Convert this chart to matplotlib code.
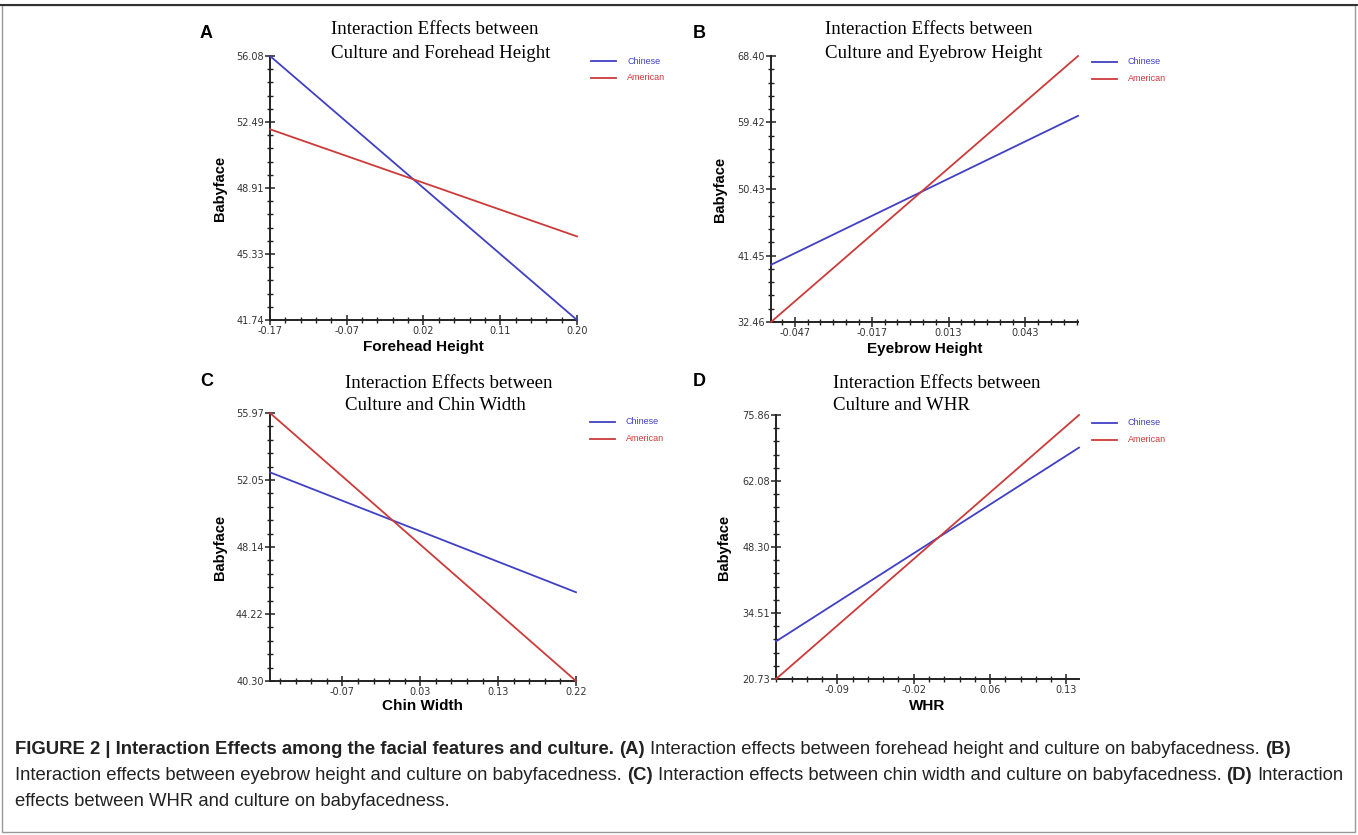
import numpy as np
import matplotlib
matplotlib.use("Agg")
import matplotlib.pyplot as plt
from matplotlib.ticker import FixedLocator, FixedFormatter

# ---- data ----
panel_letters = ["A", "B", "C", "D"]
titles = ["Culture and Forehead Height", "Culture and Eyebrow Height",
          "Culture and Chin Width", "Culture and WHR"]
xlabels = ["Forehead Height", "Eyebrow Height", "Chin Width", "WHR"]

# x ends of each simple-slope line (low, high)
x_forehead = [-0.17, 0.20]
x_eyebrow = [-0.0563, 0.0635]
x_chin = [-0.160, 0.220]
x_whr = [-0.149, 0.142]

chinese_forehead = [56.08, 41.74]
american_forehead = [52.10, 46.28]
chinese_eyebrow = [40.19, 60.31]
american_eyebrow = [32.46, 68.40]
chinese_chin = [52.50, 45.49]
american_chin = [55.97, 40.30]
chinese_whr = [28.59, 69.05]
american_whr = [20.73, 75.86]

# y tick labels (bottom to top)
yt_forehead = ["41.74", "45.33", "48.91", "52.49", "56.08"]
yt_eyebrow = ["32.46", "41.45", "50.43", "59.42", "68.40"]
yt_chin = ["40.30", "44.22", "48.14", "52.05", "55.97"]
yt_whr = ["20.73", "34.51", "48.30", "62.08", "75.86"]

# labelled x ticks: first position, step, labels
xt_forehead = (-0.17, 0.0925, ["-0.17", "-0.07", "0.02", "0.11", "0.20"])
xt_eyebrow = (-0.047, 0.03, ["-0.047", "-0.017", "0.013", "0.043"])
xt_chin = (-0.07, 0.09666, ["-0.07", "0.03", "0.13", "0.22"])
xt_whr = (-0.09, 0.0733, ["-0.09", "-0.02", "0.06", "0.13"])

xs = [x_forehead, x_eyebrow, x_chin, x_whr]
chinese = [chinese_forehead, chinese_eyebrow, chinese_chin, chinese_whr]
american = [american_forehead, american_eyebrow, american_chin, american_whr]
ytlabels = [yt_forehead, yt_eyebrow, yt_chin, yt_whr]
xticks = [xt_forehead, xt_eyebrow, xt_chin, xt_whr]
xminor_div = [5, 6, 5, 5]

blue = "#4040c4"
red = "#cc3a3a"

W, H = 1358, 835
fig = plt.figure(figsize=(W / 100, H / 100), dpi=100)

def fx(px):
    return px / W

def fy(py):
    return 1 - py / H

# axes boxes in pixels: left, right, top, bottom
boxes = [(270, 577, 56, 320), (771, 1078, 56, 322),
         (270, 576, 413, 681), (776, 1079, 415, 679)]
title_pos = [(331, 30), (825, 30), (345, 383), (833, 383)]
letter_pos = [(200, 33), (693, 33), (200, 382), (693, 382)]
legend_pos = [(591, 61), (1092, 62), (590, 422), (1092, 423)]
ylabel_x = [220, 720, 220, 724]
xlabel_y = [347, 349, 706, 706]

for i in range(4):
    l, r, t, b = boxes[i]
    ax = fig.add_axes([fx(l), fy(b), fx(r - l), (b - t) / H])
    x = xs[i]
    ax.plot(x, chinese[i], color=blue, lw=1.3, clip_on=False, zorder=3)
    ax.plot(x, american[i], color=red, lw=1.3, clip_on=False, zorder=3)
    ax.set_xlim(x[0], x[1] + 1e-6)
    ylabs = ytlabels[i]
    y0, y1 = float(ylabs[0]), float(ylabs[-1])
    ax.set_ylim(y0, y1)

    for s in ["top", "right"]:
        ax.spines[s].set_visible(False)
    for s in ["left", "bottom"]:
        ax.spines[s].set_linewidth(1.4)
        ax.spines[s].set_color("#222222")

    # y ticks: 5 labelled, 4 minor in between
    ax.yaxis.set_major_locator(FixedLocator(np.linspace(y0, y1, 5)))
    ax.yaxis.set_major_formatter(FixedFormatter(ylabs))
    ax.yaxis.set_minor_locator(FixedLocator(np.linspace(y0, y1, 21)))

    # x ticks
    start, step, labs = xticks[i]
    xmaj = start + step * np.arange(len(labs))
    ax.xaxis.set_major_locator(FixedLocator(xmaj))
    ax.xaxis.set_major_formatter(FixedFormatter(labs))
    sub = step / xminor_div[i]
    k = np.arange(-60, 60)
    xmin = start + sub * k
    xmin = xmin[(xmin >= x[0] - 1e-6) & (xmin <= x[1] + 1e-6)]
    ax.xaxis.set_minor_locator(FixedLocator(xmin))

    ax.tick_params(which="major", direction="inout", length=7, width=1.1,
                   color="#222222", labelsize=7, labelcolor="#333333", pad=1)
    ax.tick_params(which="minor", direction="inout", length=4, width=1.0,
                   color="#222222")

    fig.text(fx(ylabel_x[i]), fy((t + b) / 2), "Babyface", rotation=90,
             ha="center", va="center", fontsize=10.5, fontweight="bold",
             family="Liberation Sans")
    fig.text(fx((l + r) / 2), fy(xlabel_y[i]), xlabels[i], ha="center",
             va="center", fontsize=11, fontweight="bold",
             family="Liberation Sans")

    tx, ty = title_pos[i]
    fig.text(fx(tx), fy(ty), "Interaction Effects between", ha="left",
             va="center", fontsize=13.6, family="Liberation Serif")
    fig.text(fx(tx), fy(ty + 23), titles[i], ha="left", va="center",
             fontsize=13.6, family="Liberation Serif")

    lx, ly = letter_pos[i]
    fig.text(fx(lx), fy(ly), panel_letters[i], ha="left", va="center",
             fontsize=13, fontweight="bold", family="Liberation Sans")

    gx, gy = legend_pos[i]
    for j, (name, c) in enumerate([("Chinese", blue), ("American", red)]):
        yy = gy + j * 16.5
        fig.add_artist(plt.Line2D([fx(gx), fx(gx + 25)], [fy(yy), fy(yy)],
                                  color=c, lw=1.3))
        fig.text(fx(gx + 36), fy(yy), name, color=c, fontsize=6.5,
                 ha="left", va="center", family="Liberation Sans")

# frame around the figure page
fig.add_artist(plt.Line2D([0, 1], [fy(5), fy(5)], color="#333333", lw=1.5))
fig.add_artist(plt.Rectangle((fx(2), fy(832)), fx(1353), (832 - 5) / H,
                             fill=False, edgecolor="#999999", lw=1.0))

# caption with mixed bold / regular runs
caption = [
    [("FIGURE 2 | Interaction Effects among the facial features and culture.", True),
     ("(A)", True),
     ("Interaction effects between forehead height and culture on babyfacedness.", False),
     ("(B)", True)],
    [("Interaction effects between eyebrow height and culture on babyfacedness.", False),
     ("(C)", True),
     ("Interaction effects between chin width and culture on babyfacedness.", False),
     ("(D)", True),
     ("Interaction", False)],
    [("effects between WHR and culture on babyfacedness.", False)],
]
cap_y = [750, 776, 801]
cap_size = 13.3
renderer = fig.canvas.get_renderer()

def width_of(s, bold):
    tt = fig.text(0, 0, s, fontsize=cap_size, family="Liberation Sans",
                  fontweight="bold" if bold else "normal")
    w = tt.get_window_extent(renderer).width
    tt.remove()
    return w

space = width_of("x x", False) - width_of("xx", False)
for runs, yy in zip(caption, cap_y):
    xpos = 15
    for s, bold in runs:
        tt = fig.text(fx(xpos), fy(yy), s, fontsize=cap_size,
                      family="Liberation Sans",
                      fontweight="bold" if bold else "normal",
                      color="#222222", ha="left", va="center")
        xpos += tt.get_window_extent(renderer).width + space

fig.savefig("out.png", dpi=100)
